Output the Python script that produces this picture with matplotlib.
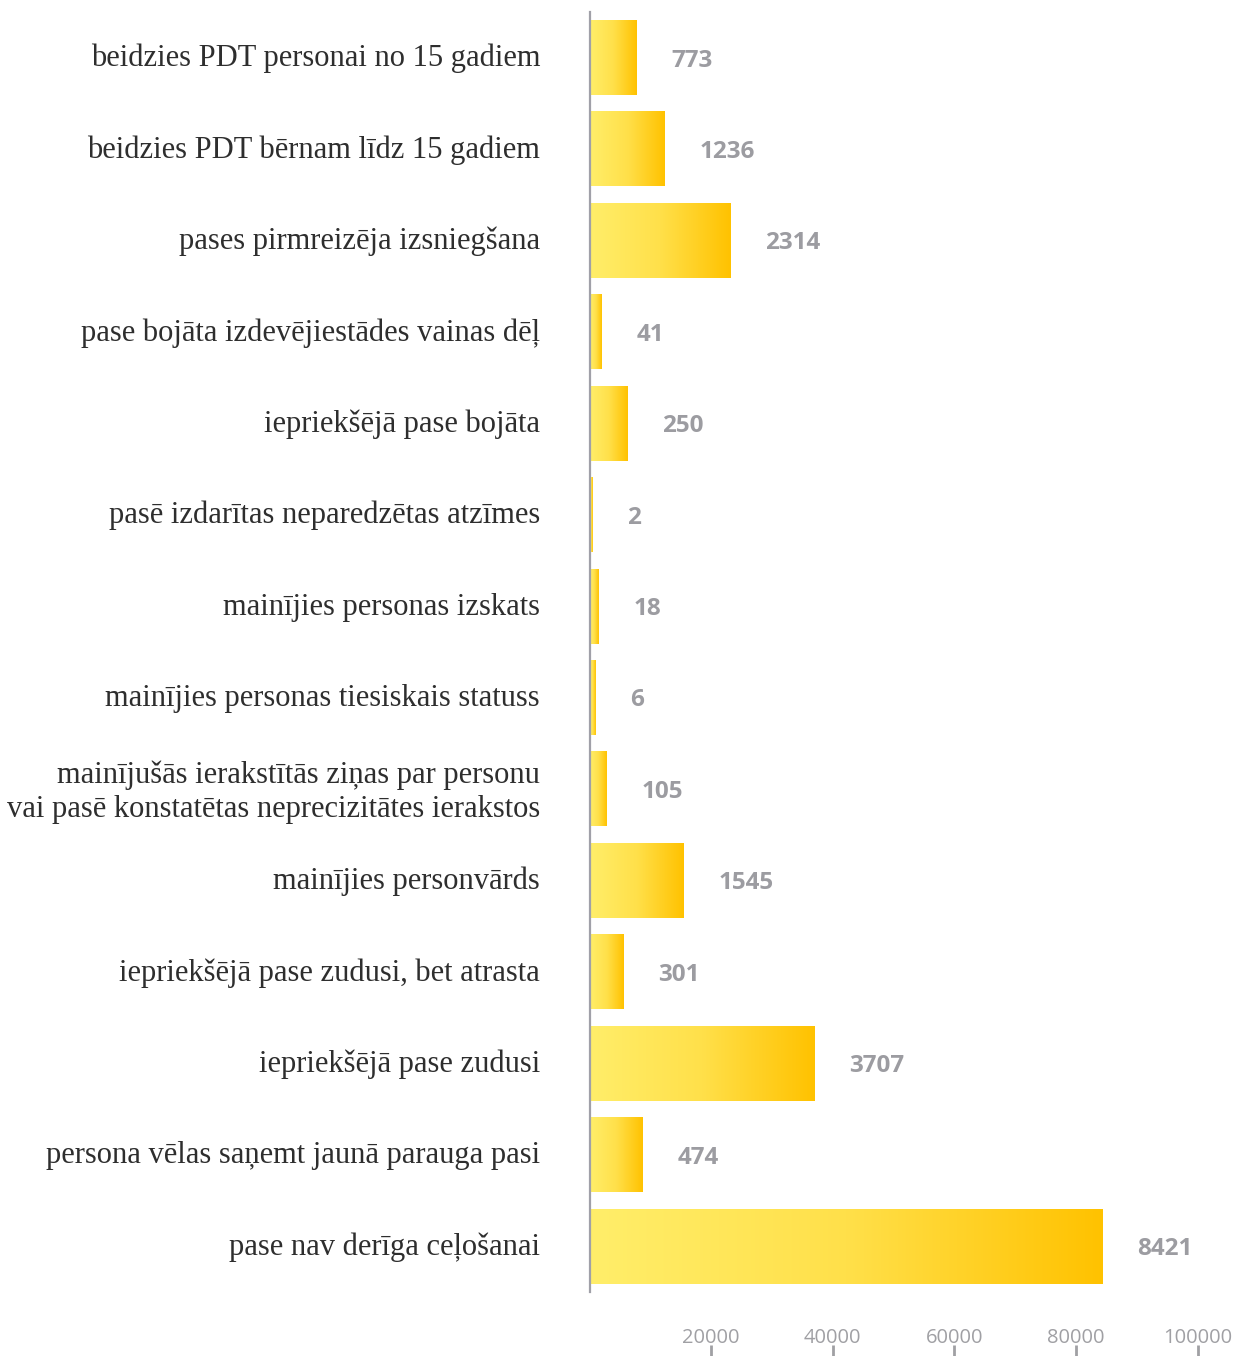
import matplotlib
matplotlib.use("Agg")
import matplotlib.pyplot as plt
import numpy as np
from matplotlib.colors import LinearSegmentedColormap
from matplotlib.transforms import ScaledTranslation

categories = [
    "beidzies PDT personai no 15 gadiem",
    "beidzies PDT bērnam līdz 15 gadiem",
    "pases pirmreizēja izsniegšana",
    "pase bojāta izdevējiestādes vainas dēļ",
    "iepriekšējā pase bojāta",
    "pasē izdarītas neparedzētas atzīmes",
    "mainījies personas izskats",
    "mainījies personas tiesiskais statuss",
    "mainījušās ierakstītās ziņas par personu\nvai pasē konstatētas neprecizitātes ierakstos",
    "mainījies personvārds",
    "iepriekšējā pase zudusi, bet atrasta",
    "iepriekšējā pase zudusi",
    "persona vēlas saņemt jaunā parauga pasi",
    "pase nav derīga ceļošanai",
]
bar_values = [7650, 12200, 23100, 1890, 6170, 410, 1400, 900, 2710, 15380, 5510, 36920, 8630, 84280]
value_labels = ["773", "1236", "2314", "41", "250", "2", "18", "6", "105", "1545", "301", "3707", "474", "8421"]
x_ticks = [20000, 40000, 60000, 80000, 100000]

W, H, DPI = 1238, 1356, 100
fig = plt.figure(figsize=(W / DPI, H / DPI), dpi=DPI)
left = 589.5 / W
right = 1197.6 / W
ax = fig.add_axes([left, 0.0, right - left, 1344 / H])

y = np.arange(len(categories))
bars = ax.barh(y, bar_values, height=0.82, color="none", edgecolor="none")

cmap = LinearSegmentedColormap.from_list("g", ["#FFEE6A", "#FFE04A", "#FFC200"])
grad = np.linspace(0, 1, 256).reshape(1, -1)
for b in bars:
    x0, y0 = b.get_x(), b.get_y()
    w, h = b.get_width(), b.get_height()
    im = ax.imshow(grad, cmap=cmap, extent=(x0, x0 + w, y0 + h, y0), aspect="auto",
                   interpolation="bicubic", zorder=2)
    im.set_clip_path(b)

for yi, v, lab in zip(y, bar_values, value_labels):
    ax.annotate(lab, xy=(v, yi), xytext=(25.5, 0), textcoords="offset points",
                ha="left", va="center_baseline", fontsize=17.5, fontweight="bold",
                color="#9c9ca1", family="Open Sans")

ax.set_xlim(0, 100000)
ax.set_ylim(14.203, -0.498)

ax.set_yticks(y)
ax.set_yticklabels(categories, family="Liberation Serif", fontsize=22, color="#2e2e2e",
                   linespacing=1.2)
ax.tick_params(axis="y", length=0, pad=35.6)
shift = ScaledTranslation(0, 2.5 / DPI, fig.dpi_scale_trans)
for lbl in ax.get_yticklabels():
    lbl.set_transform(lbl.get_transform() + shift)

ax.set_xticks(x_ticks)
ax.set_xticklabels([str(t) for t in x_ticks], family="Open Sans", fontsize=14.5, color="#a0a0a4")
ax.tick_params(axis="x", direction="in", length=8, width=2, color="#a0a0a4", pad=-20)

for s in ["top", "right", "bottom"]:
    ax.spines[s].set_visible(False)
ax.spines["left"].set_color("#a0a0a8")
ax.spines["left"].set_linewidth(1.6)
ax.spines["left"].set_bounds(-0.5, 13.5)
ax.spines["left"].set_zorder(3)

fig.savefig("out.png", dpi=DPI)
